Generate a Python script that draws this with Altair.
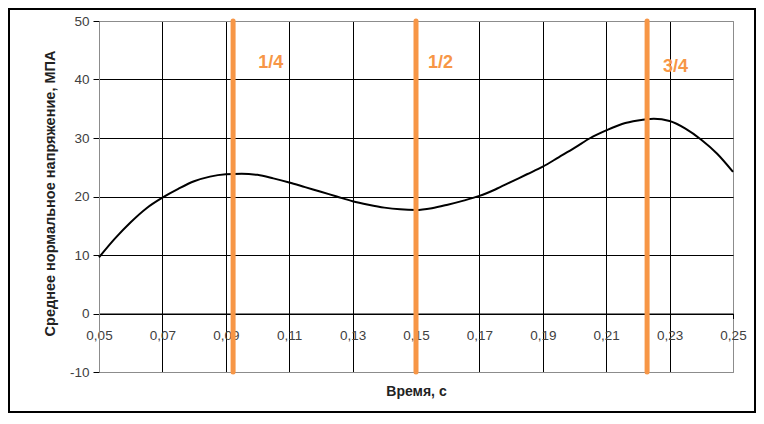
import altair as alt
import pandas as pd

# Curve data (time, s ; mean normal stress, MPa)
t_vals = [0.050, 0.055, 0.060, 0.065, 0.070, 0.075, 0.080, 0.085, 0.090, 0.095,
          0.100, 0.105, 0.110, 0.115, 0.120, 0.125, 0.130, 0.135, 0.140, 0.145,
          0.150, 0.155, 0.160, 0.165, 0.170, 0.175, 0.180, 0.185, 0.190, 0.195,
          0.200, 0.205, 0.210, 0.215, 0.220, 0.225, 0.230, 0.235, 0.240, 0.245,
          0.250]
s_vals = [9.6, 12.8, 15.6, 18.0, 19.8, 21.3, 22.6, 23.4, 23.8, 23.9,
          23.7, 23.1, 22.4, 21.6, 20.8, 20.0, 19.2, 18.6, 18.1, 17.8,
          17.7, 18.0, 18.6, 19.3, 20.1, 21.2, 22.5, 23.8, 25.1, 26.7,
          28.3, 30.0, 31.3, 32.4, 33.0, 33.3, 32.9, 31.6, 29.7, 27.3,
          24.2]

# Marker lines
marker_t = [0.0923, 0.15, 0.2229]
marker_labels = ["1/4", "1/2", "3/4"]
marker_label_t = [0.1002, 0.1538, 0.2279]
marker_label_y = [42.8, 42.8, 42.2]

x_ticks = [0.05, 0.07, 0.09, 0.11, 0.13, 0.15, 0.17, 0.19, 0.21, 0.23, 0.25]
y_ticks = [-10, 0, 10, 20, 30, 40, 50]

W, H = 634, 351
FONT = "Liberation Sans"
ORANGE = "#F79646"

curve = pd.DataFrame({"t": t_vals, "s": s_vals})
markers = pd.DataFrame({"t": marker_t})
labels = pd.DataFrame({"t": marker_label_t, "s": marker_label_y, "lab": marker_labels})

xscale = alt.Scale(domain=[0.05, 0.25], nice=False, zero=False)
yscale = alt.Scale(domain=[-10, 50], nice=False)

grid_col_x = {"condition": {"test": "datum.value <= 0.0501 || datum.value >= 0.2499", "value": "#8c8c8c"}, "value": "#000000"}
grid_col_y = {"condition": {"test": "datum.value == 50 || datum.value == -10", "value": "#8c8c8c"}, "value": "#000000"}

line = alt.Chart(curve).mark_line(color="black", strokeWidth=2, interpolate="monotone").encode(
    x=alt.X("t:Q", scale=xscale,
            axis=alt.Axis(values=x_ticks, title="Время, с", offset=-58.5,
                          labelExpr="replace(format(datum.value, '.2f'), '.', ',')",
                          labelFlush=False, labelOverlap=False,
                          grid=True, gridColor=grid_col_x, gridOpacity=1, gridWidth=1,
                          domainColor="black", tickColor="black", tickSize=5,
                          labelPadding=10, labelFontSize=13.5, labelColor="#404040", labelFont=FONT,
                          titleFont=FONT, titleFontSize=14, titleFontWeight="bold", titleColor="#222222",
                          titleY=71, titleBaseline="top")),
    y=alt.Y("s:Q", scale=yscale,
            axis=alt.Axis(values=y_ticks, title="Среднее нормальное напряжение, МПА",
                          labelExpr="datum.value < 0 ? '-' + abs(datum.value) : '' + datum.value",
                          grid=True, gridColor=grid_col_y, gridOpacity=1, gridWidth=1,
                          domainColor="#8c8c8c", tickColor="black", tickSize=6,
                          labelPadding=4, labelFontSize=13.5, labelColor="#404040", labelFont=FONT,
                          titleFont=FONT, titleFontSize=14.5, titleFontWeight="bold", titleColor="#222222",
                          titleX=-49, titleY=172, titleBaseline="middle", titleAngle=-90)),
)

rules = alt.Chart(markers).mark_rule(color=ORANGE, strokeWidth=5, strokeCap="round").encode(
    x=alt.X("t:Q", scale=xscale)
)

texts = alt.Chart(labels).mark_text(color=ORANGE, font=FONT, fontSize=18, fontWeight="bold",
                                    align="left", baseline="middle").encode(
    x=alt.X("t:Q", scale=xscale),
    y=alt.Y("s:Q", scale=yscale),
    text="lab:N",
)

border = alt.Chart(pd.DataFrame({"a": [0]})).mark_rect(fill=None, stroke="black", strokeWidth=2).encode(
    x=alt.value(-90), x2=alt.value(656), y=alt.value(-12), y2=alt.value(391)
)

chart = alt.layer(border, line, rules, texts).properties(
    width=W, height=H,
    padding={"left": 91, "top": 13, "right": 23, "bottom": 42},
    autosize=alt.AutoSizeParams(type="none"),
    background="white",
).configure_view(stroke="#8c8c8c", strokeWidth=1)

chart.save("out.html", embed_options={"renderer": "svg", "actions": False})
